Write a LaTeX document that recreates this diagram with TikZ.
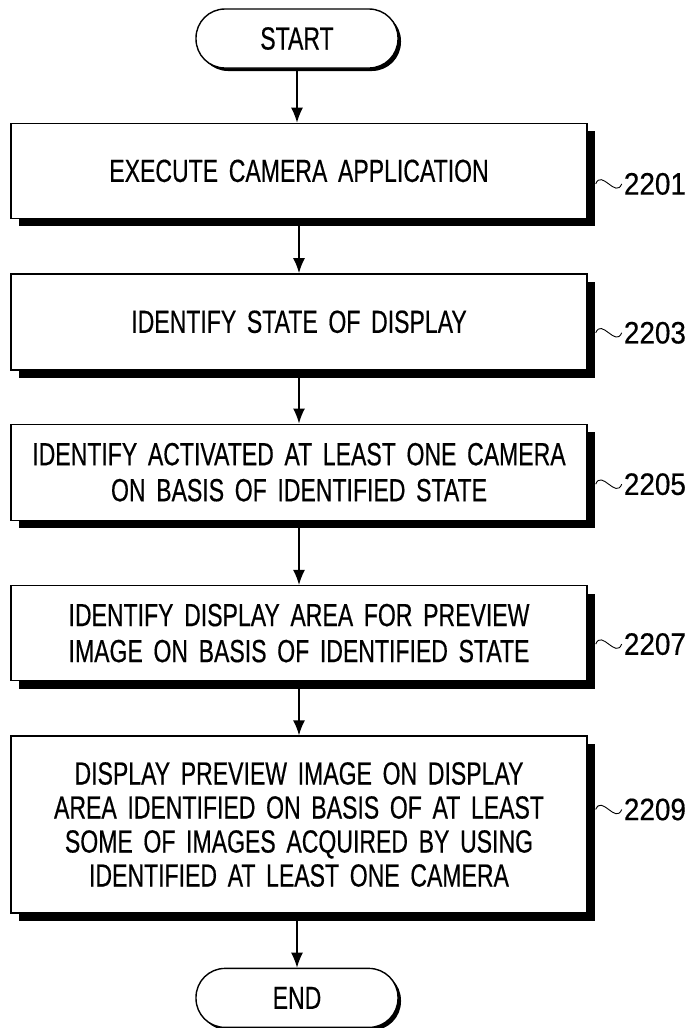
\documentclass[tikz,border=0pt]{standalone}
\usepackage{fontspec}
\setmainfont{Liberation Sans}[FakeStretch=0.72, WordSpace=0.7, FakeBold=0.4]
\newfontfamily\numfont{Liberation Sans}[FakeStretch=0.9, FakeBold=0.4]
\usetikzlibrary{arrows.meta, positioning, shadows}

\begin{document}
\begin{tikzpicture}[
  x=1pt, y=-1pt,
  font=\fontsize{32}{36}\selectfont,
  box/.style={draw, line width=1.4pt, fill=white, minimum width=576pt, minimum height=95pt, text width=560pt, align=center, inner sep=0pt,
    drop shadow={shadow xshift=8pt, shadow yshift=-8pt, fill=black, opacity=1}},
  term/.style={draw, line width=1.4pt, fill=white, rounded corners=29pt, minimum width=202pt, minimum height=59pt, inner sep=0pt,
    drop shadow={shadow xshift=3pt, shadow yshift=-3pt, fill=black, opacity=1}},
  lbl/.style={inner sep=0pt, anchor=west, font=\numfont\fontsize{31}{36}\selectfont},
  squig/.style={line width=0.9pt},
  arrow/.style={-{Latex[length=15pt, width=12pt]}, line width=1.4pt}
]
\useasboundingbox (0,0) rectangle (692,1028);

% Terminals and steps
\node[term] (start) at (297,38.5) {START};
\node[box, below=54pt of start, xshift=2pt] (s2201) {EXECUTE CAMERA APPLICATION};
\node[box, below=54pt of s2201, minimum height=96pt] (s2203) {IDENTIFY STATE OF DISPLAY};
\node[box, below=53pt of s2203, minimum height=96pt] (s2205) {IDENTIFY ACTIVATED AT LEAST ONE CAMERA\\ON BASIS OF IDENTIFIED STATE};
\node[box, below=64pt of s2205] (s2207) {IDENTIFY DISPLAY AREA FOR PREVIEW\\IMAGE ON BASIS OF IDENTIFIED STATE};
\node[box, below=54pt of s2207, minimum height=177pt, font=\fontsize{32}{34}\selectfont] (s2209) {DISPLAY PREVIEW IMAGE ON DISPLAY\\AREA IDENTIFIED ON BASIS OF AT LEAST\\SOME OF IMAGES ACQUIRED BY USING\\IDENTIFIED AT LEAST ONE CAMERA};
\node[term, below=54pt of s2209, xshift=-2pt] (end) {END};

% Reference numerals
\node[lbl] (l2201) at ([xshift=36pt, yshift=-13pt]s2201.east) {2201};
\node[lbl] (l2203) at ([xshift=36pt, yshift=-11pt]s2203.east) {2203};
\node[lbl] (l2205) at ([xshift=36pt, yshift=-12pt]s2205.east) {2205};
\node[lbl] (l2207) at ([xshift=36pt, yshift=-11pt]s2207.east) {2207};
\node[lbl] (l2209) at ([xshift=36pt, yshift=15pt]s2209.east) {2209};

% Squiggles
\foreach \n/\dy in {2201/-13, 2203/-11, 2205/-12, 2207/-11, 2209/15}
  \draw[squig] ([xshift=8pt, yshift=\dy pt]s\n.east) .. controls +(6,-15) and +(-6,15) .. ([xshift=-2pt]l\n.west);

% Arrows
\draw[arrow] (start) -- (start |- s2201.north);
\draw[arrow] (s2201) -- (s2203);
\draw[arrow] (s2203) -- (s2205);
\draw[arrow] (s2205) -- (s2207);
\draw[arrow] (s2207) -- (s2209);
\draw[arrow] (s2209.south -| end) -- (end);

\end{tikzpicture}
\end{document}
